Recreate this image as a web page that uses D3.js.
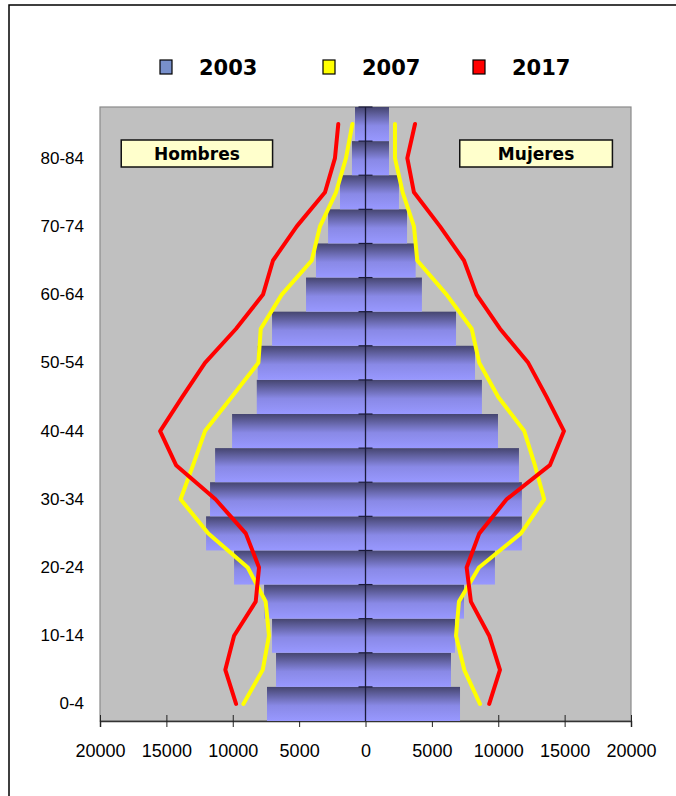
<!DOCTYPE html>
<html>
<head>
<meta charset="utf-8">
<script src="https://cdn.jsdelivr.net/npm/d3@7"></script>
<style>
  body { margin: 0; background: #fff; }
</style>
</head>
<body>
<div id="container"></div>
<script>
// age groups, bottom to top
var ages = ["0-4", "5-9", "10-14", "15-19", "20-24", "25-29", "30-34", "35-39", "40-44",
  "45-49", "50-54", "55-59", "60-64", "65-69", "70-74", "75-79", "80-84", "85+"];

// 2003 bars
var men2003 = [7420, 6740, 7040, 7640, 9900, 12010, 11710, 11330, 10050, 8190, 8120, 7040, 4480, 3730, 2820, 1920, 1020, 790];
var women2003 = [7120, 6440, 6740, 7420, 9750, 11780, 11780, 11560, 9980, 8770, 8250, 6820, 4250, 3780, 3130, 2520, 1770, 1770];

// 2007 lines
var men2007 = [9200, 7740, 7270, 7520, 8870, 11840, 13930, 12990, 12090, 10080, 8070, 7890, 6310, 4050, 3430, 2220, 1470, 990];
var women2007 = [8620, 7440, 6820, 7040, 8550, 11710, 13460, 12760, 11960, 10000, 8570, 8000, 6110, 3900, 3650, 2800, 2220, 2220];

// 2017 lines
var men2017 = [9750, 10560, 9900, 8270, 8020, 9020, 11300, 14270, 15470, 13800, 12090, 9750, 7720, 6970, 5180, 3050, 2300, 2050];
var women2017 = [9320, 10130, 9320, 7940, 7620, 8570, 10630, 13890, 14950, 13640, 12260, 10130, 8370, 7420, 5610, 3650, 3150, 3730];

var xTicks = [-20000, -15000, -10000, -5000, 0, 5000, 10000, 15000, 20000];
var yLabels = ["0-4", "10-14", "20-24", "30-34", "40-44", "50-54", "60-64", "70-74", "80-84"];
var legendYears = ["2003", "2007", "2017"];

var W = 676, H = 796;
var plot = { left: 100, right: 631, top: 107, bottom: 721 };

var svg = d3.select("#container").append("svg")
  .attr("width", W)
  .attr("height", H);

// outer frame
svg.append("rect")
  .attr("x", 9).attr("y", 5)
  .attr("width", W + 20).attr("height", H + 20)
  .attr("fill", "#fff")
  .attr("stroke", "#000")
  .attr("stroke-width", 1.5);

var x = d3.scaleLinear().domain([-20000, 20000]).range([plot.left, plot.right]);
var y = d3.scaleBand().domain(ages.slice().reverse()).range([plot.top, plot.bottom]).padding(0);

// gradient for bars
var defs = svg.append("defs");
var grad = defs.append("linearGradient")
  .attr("id", "barGrad")
  .attr("x1", 0).attr("y1", 0).attr("x2", 0).attr("y2", 1);
grad.append("stop").attr("offset", "0%").attr("stop-color", "#45456f");
grad.append("stop").attr("offset", "55%").attr("stop-color", "#8989e6");
grad.append("stop").attr("offset", "100%").attr("stop-color", "#9898ff");

// plot background
svg.append("rect")
  .attr("x", plot.left).attr("y", plot.top)
  .attr("width", plot.right - plot.left)
  .attr("height", plot.bottom - plot.top)
  .attr("fill", "#c0c0c0")
  .attr("stroke", "#8a8a8a")
  .attr("stroke-width", 1.2);

// x axis
var xAxis = svg.append("g")
  .attr("transform", "translate(0," + plot.bottom + ")")
  .call(d3.axisBottom(x)
    .tickValues(xTicks)
    .tickSize(6)
    .tickPadding(17)
    .tickFormat(function (d) { return Math.abs(d); }));
xAxis.select(".domain").attr("stroke", "#333").attr("stroke-width", 1.5);
xAxis.selectAll(".tick line").attr("y1", -6).attr("stroke", "#222");
xAxis.selectAll(".tick text")
  .attr("font-family", "'Liberation Sans', Arial, sans-serif")
  .attr("font-size", 18)
  .attr("fill", "#000");

// bars, 2003
var data2003 = ages.map(function (a, i) {
  return { age: a, men: men2003[i], women: women2003[i] };
});
svg.selectAll(".bar-men")
  .data(data2003)
  .enter()
  .append("rect")
  .attr("class", "bar-men")
  .attr("x", function (d) { return x(-d.men); })
  .attr("y", function (d) { return y(d.age); })
  .attr("width", function (d) { return x(0) - x(-d.men); })
  .attr("height", y.bandwidth())
  .attr("fill", "url(#barGrad)");
svg.selectAll(".bar-women")
  .data(data2003)
  .enter()
  .append("rect")
  .attr("class", "bar-women")
  .attr("x", x(0))
  .attr("y", function (d) { return y(d.age); })
  .attr("width", function (d) { return x(d.women) - x(0); })
  .attr("height", y.bandwidth())
  .attr("fill", "url(#barGrad)");

// zero line with cross ticks
svg.append("line")
  .attr("x1", x(0)).attr("x2", x(0))
  .attr("y1", plot.top).attr("y2", plot.bottom)
  .attr("stroke", "#1a1a3a")
  .attr("stroke-width", 1.3);
svg.selectAll(".ytick")
  .data(ages)
  .enter()
  .append("line")
  .attr("class", "ytick")
  .attr("x1", x(0) - 7).attr("x2", x(0) + 7)
  .attr("y1", function (d) { return y(d); })
  .attr("y2", function (d) { return y(d); })
  .attr("stroke", "#1a1a3a")
  .attr("stroke-width", 1.2);

// y labels
var yAxis = svg.append("g")
  .attr("transform", "translate(" + plot.left + ",0)")
  .call(d3.axisLeft(y).tickValues(yLabels).tickSize(0).tickPadding(16));
yAxis.select(".domain").remove();
yAxis.selectAll(".tick text")
  .attr("font-family", "'Liberation Sans', Arial, sans-serif")
  .attr("font-size", 17)
  .attr("fill", "#000");

// lines 2007 / 2017
var line = d3.line()
  .x(function (d) { return x(d.v); })
  .y(function (d) { return y(d.age) + y.bandwidth() / 2; });

function series(vals, sign) {
  return ages.map(function (a, i) { return { age: a, v: sign * vals[i] }; });
}

var lineSets = [
  { vals: men2007, sign: -1, color: "#ffff00" },
  { vals: women2007, sign: 1, color: "#ffff00" },
  { vals: men2017, sign: -1, color: "#ff0000" },
  { vals: women2017, sign: 1, color: "#ff0000" }
];
lineSets.forEach(function (s) {
  svg.append("path")
    .datum(series(s.vals, s.sign))
    .attr("fill", "none")
    .attr("stroke", s.color)
    .attr("stroke-width", 4)
    .attr("stroke-linejoin", "round")
    .attr("stroke-linecap", "round")
    .attr("d", line);
});

// Hombres / Mujeres boxes
var boxes = [
  { label: "Hombres", x0: -18400, x1: -7000 },
  { label: "Mujeres", x0: 7100, x1: 18600 }
];
boxes.forEach(function (b) {
  svg.append("rect")
    .attr("x", x(b.x0)).attr("y", 140)
    .attr("width", x(b.x1) - x(b.x0)).attr("height", 27)
    .attr("fill", "#ffffcc")
    .attr("stroke", "#111")
    .attr("stroke-width", 1.5);
  svg.append("text")
    .attr("x", (x(b.x0) + x(b.x1)) / 2)
    .attr("y", 160)
    .attr("text-anchor", "middle")
    .attr("font-family", "'DejaVu Sans', Verdana, sans-serif")
    .attr("font-weight", "bold")
    .attr("font-size", 17)
    .text(b.label);
});

// legend
var legendColors = ["#7890cc", "#ffff00", "#ff0000"];
var legendX = [160, 323, 473];
var legend = svg.selectAll(".legend")
  .data(legendYears)
  .enter()
  .append("g")
  .attr("class", "legend")
  .attr("transform", function (d, i) { return "translate(" + legendX[i] + ",60)"; });
legend.append("rect")
  .attr("width", 12).attr("height", 14)
  .attr("fill", function (d, i) { return legendColors[i]; })
  .attr("stroke", "#000")
  .attr("stroke-width", 1.2);
legend.append("text")
  .attr("x", 39).attr("y", 15)
  .attr("font-family", "'DejaVu Sans', Verdana, sans-serif")
  .attr("font-weight", "bold")
  .attr("font-size", 21)
  .text(function (d) { return d; });
</script>
</body>
</html>
